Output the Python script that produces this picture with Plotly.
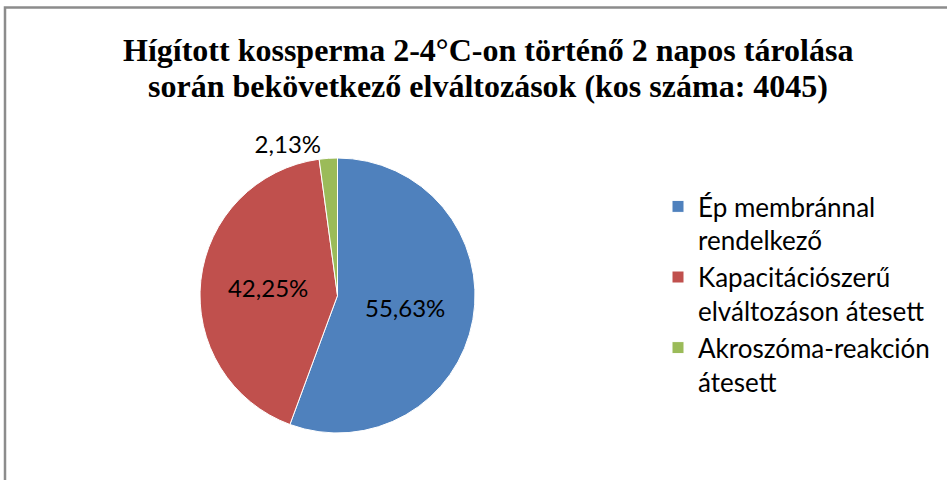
import plotly.graph_objects as go

labels = ["Ép membránnal<br>rendelkező", "Kapacitációszerű<br>elváltozáson átesett", "Akroszóma-reakción<br>átesett"]
values = [55.63, 42.25, 2.13]
colors = ["#4F81BD", "#C0504D", "#9BBB59"]
text_positions = ["inside", "inside", "outside"]
title_lines = ["Hígított kossperma 2-4°C-on történő 2 napos tárolása",
               "során bekövetkező elváltozások (kos száma: 4045)"]

W, H = 947, 480
fig = go.Figure(go.Pie(
    labels=labels,
    values=values,
    sort=False,
    direction="clockwise",
    rotation=0,
    marker=dict(colors=colors, line=dict(color="white", width=1)),
    texttemplate="%{value:.2f}%",
    textposition=text_positions,
    textfont=dict(family="Lato, Carlito, sans-serif", size=24, color="black"),
    insidetextorientation="horizontal",
    hoverinfo="skip",
    domain=dict(x=[200 / W, 475 / W], y=[1 - 433 / H, 1 - 158 / H]),
))

title_font = dict(family="Liberation Serif, Times New Roman, serif", size=32, color="black", weight="bold")
annotations = []
for i, line in enumerate(title_lines):
    annotations.append(dict(text=line, xref="paper", yref="paper", x=488 / W, xanchor="center",
                            y=1 - (50 + 36 * i) / H, yanchor="middle", showarrow=False, font=title_font))

fig.update_layout(
    width=W, height=H, autosize=False,
    margin=dict(l=0, r=0, t=0, b=0),
    paper_bgcolor="white",
    separators=",.",
    annotations=annotations,
    legend=dict(
        x=658 / W, xanchor="left", y=1 - 183 / H, yanchor="top",
        font=dict(family="Lato, Carlito, sans-serif", size=26, color="black"),
        valign="top", itemwidth=30,
    ),
    shapes=[dict(type="rect", xref="paper", yref="paper",
                 x0=5 / W, x1=1.2, y0=-0.2, y1=1 - 7.5 / H,
                 line=dict(color="#8C8C8C", width=2.5), fillcolor="rgba(0,0,0,0)")],
)

fig.write_html("out.html", config={"displayModeBar": False},
               post_script="document.body.style.margin='0';document.body.style.overflow='hidden';")
